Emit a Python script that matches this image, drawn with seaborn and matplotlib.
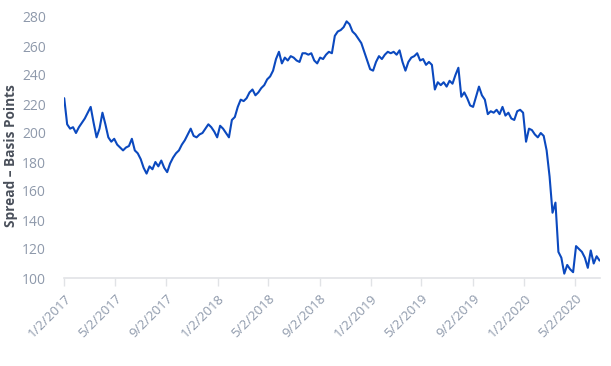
import matplotlib
matplotlib.use("Agg")
import matplotlib.pyplot as plt
import pandas as pd
import seaborn as sns

start_date = "2017-01-02"
spread_bp = [
    224, 206, 203, 204, 200, 204, 207, 210, 214, 218,
    207, 197, 203, 214, 206, 197, 194, 196, 192, 190,
    188, 190, 191, 196, 188, 186, 182, 176, 172, 177,
    175, 180, 177, 181, 176, 173, 179, 183, 186, 188,
    192, 195, 199, 203, 198, 197, 199, 200, 203, 206,
    204, 201, 197, 205, 203, 200, 197, 209, 211, 218,
    223, 222, 224, 228, 230, 226, 228, 231, 233, 237,
    239, 243, 251, 256, 248, 252, 250, 253, 252, 250,
    249, 255, 255, 254, 255, 250, 248, 252, 251, 254,
    256, 255, 267, 270, 271, 273, 277, 275, 270, 268,
    265, 262, 256, 250, 244, 243, 249, 253, 251, 254,
    256, 255, 256, 254, 257, 249, 243, 249, 252, 253,
    255, 250, 251, 247, 249, 247, 230, 235, 233, 235,
    232, 236, 234, 240, 245, 225, 228, 224, 219, 218,
    225, 232, 226, 223, 213, 215, 214, 216, 213, 218,
    212, 214, 210, 209, 215, 216, 214, 194, 203, 202,
    199, 197, 200, 198, 188, 170, 145, 152, 118, 114,
    103, 109, 106, 104, 122, 120, 118, 114, 107, 119,
    110, 115, 112,
]
tick_labels = ["1/2/2017", "5/2/2017", "9/2/2017", "1/2/2018", "5/2/2018",
               "9/2/2018", "1/2/2019", "5/2/2019", "9/2/2019", "1/2/2020",
               "5/2/2020"]
y_ticks = [100, 120, 140, 160, 180, 200, 220, 240, 260, 280]

dates = pd.date_range(start_date, periods=len(spread_bp), freq="7D")
df = pd.DataFrame({"date": dates, "spread": spread_bp})

sns.set_style("white")
plt.rcParams["font.family"] = ["Open Sans", "DejaVu Sans"]

fig = plt.figure(figsize=(6.11, 3.66), dpi=100)
ax = fig.add_axes([64 / 611, 1 - 278 / 366, 536 / 611, 261 / 366])

sns.lineplot(data=df, x="date", y="spread", ax=ax, color="#0b49bf", linewidth=1.5)

tick_dates = pd.to_datetime(tick_labels, format="%m/%d/%Y")
ax.set_xticks(tick_dates)
ax.set_xticklabels(tick_labels, rotation=45, ha="right", rotation_mode="anchor",
                   color="#8e99ab", fontsize=9.5)
ax.set_xlim(dates[0] - pd.Timedelta(days=0.5), dates[-1] + pd.Timedelta(days=1))
ax.set_ylim(100, 280)
ax.set_yticks(y_ticks)
ax.set_yticklabels([str(v) for v in y_ticks], color="#8e99ab", fontsize=10)

ax.tick_params(axis="x", length=6, width=1, color="#e1e3e6", pad=4, bottom=True)
ax.tick_params(axis="y", length=0, pad=13)

for s in ["top", "right", "left"]:
    ax.spines[s].set_visible(False)
ax.spines["bottom"].set_color("#e1e3e6")
ax.spines["bottom"].set_linewidth(1.2)

ax.set_xlabel("")
ax.set_ylabel("Spread \u2013 Basis Points", fontsize=9.8, fontweight="bold",
              color="#4a505b")
ax.yaxis.set_label_coords(-46 / 536, 0.47)
ax.grid(False)

fig.savefig("out.png", dpi=100)
